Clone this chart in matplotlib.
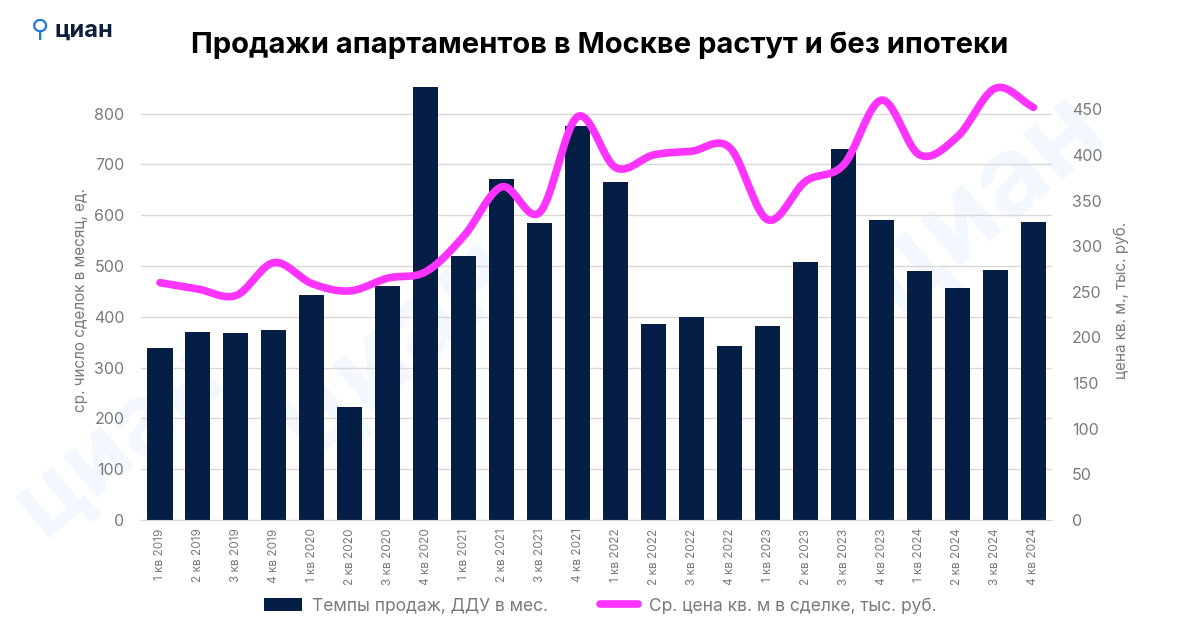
import numpy as np
import matplotlib.pyplot as plt

plt.rcParams['font.family'] = ['Inter', 'DejaVu Sans']

quarters = ['1 кв 2019', '2 кв 2019', '3 кв 2019', '4 кв 2019',
            '1 кв 2020', '2 кв 2020', '3 кв 2020', '4 кв 2020',
            '1 кв 2021', '2 кв 2021', '3 кв 2021', '4 кв 2021',
            '1 кв 2022', '2 кв 2022', '3 кв 2022', '4 кв 2022',
            '1 кв 2023', '2 кв 2023', '3 кв 2023', '4 кв 2023',
            '1 кв 2024', '2 кв 2024', '3 кв 2024', '4 кв 2024']
sales = [338, 371, 369, 373, 443, 222, 460, 852, 520, 671, 585, 775,
         665, 386, 399, 342, 381, 508, 731, 591, 490, 456, 493, 587]
price = [260, 253, 246, 282, 259, 251, 265, 272, 311, 365, 337, 442,
         386, 400, 404, 408, 329, 371, 389, 460, 400, 420, 473, 452]

bar_color = '#041e45'
line_color = '#ff33ff'
gray = '#7a7a7a'


def smooth(x, y, n=20):
    # catmull-rom, like excel's smoothed line
    x = np.asarray(x, float)
    y = np.asarray(y, float)
    px = np.concatenate([[2*x[0]-x[1]], x, [2*x[-1]-x[-2]]])
    py = np.concatenate([[2*y[0]-y[1]], y, [2*y[-1]-y[-2]]])
    xs, ys = [], []
    t = np.linspace(0, 1, n, endpoint=False)
    for i in range(1, len(px)-2):
        for p, out in ((px, xs), (py, ys)):
            p0, p1, p2, p3 = p[i-1], p[i], p[i+1], p[i+2]
            out.extend(0.5*((2*p1) + (-p0+p2)*t + (2*p0-5*p1+4*p2-p3)*t**2
                            + (-p0+3*p1-3*p2+p3)*t**3))
    xs.append(x[-1])
    ys.append(y[-1])
    return np.array(xs), np.array(ys)


fig = plt.figure(figsize=(12, 6.3), dpi=100)

# watermarks behind everything
for (wx, wy, s) in [(0.1, 0.3, 70), (0.33, 0.45, 80), (0.82, 0.68, 80)]:
    fig.text(wx, wy, 'циан', fontsize=s, fontweight='bold', color='#f3f7fe',
             rotation=40, ha='center', va='center', zorder=-5)

ax = fig.add_axes([0.1175, 0.1746, 0.7595, 0.6984])
ax.patch.set_alpha(0)
x = np.arange(len(quarters))
ax.bar(x, sales, width=0.66, color=bar_color, zorder=2, label='Темпы продаж, ДДУ в мес.')
ax.set_xlim(-0.5, len(quarters)-0.5)
ax.set_ylim(0, 866)
ax.set_yticks(range(0, 801, 100))
ax.grid(axis='y', color='#d9d9d9', lw=1, zorder=0)
ax.set_xticks(x)
ax.set_xticklabels(quarters, rotation=90, fontsize=8.5, color=gray)
ax.tick_params(axis='y', labelsize=11.5, labelcolor=gray, length=0, pad=12)
ax.tick_params(axis='x', length=0, pad=6)
for sp in ['top', 'right', 'left']:
    ax.spines[sp].set_visible(False)
ax.spines['bottom'].set_color('#d9d9d9')
ax.set_ylabel('ср. число сделок в месяц, ед.', fontsize=11, color=gray, labelpad=4)

ax2 = ax.twinx()
sx, sy = smooth(x, price)
ax2.plot(sx, sy, color=line_color, lw=5.5, solid_capstyle='round', zorder=3,
         label='Ср. цена кв. м в сделке, тыс. руб.')
ax2.set_ylim(0, 482)
ax2.set_yticks(range(0, 451, 50))
ax2.tick_params(axis='y', labelsize=11.5, labelcolor=gray, length=0, pad=14)
for sp in ax2.spines.values():
    sp.set_visible(False)
ax2.set_ylabel('цена кв. м., тыс. руб.', fontsize=11, color=gray, labelpad=8)

h1, l1 = ax.get_legend_handles_labels()
h2, l2 = ax2.get_legend_handles_labels()
fig.legend(h1 + h2, l1 + l2, loc='center', bbox_to_anchor=(0.5, 0.038), ncol=2,
           frameon=False, fontsize=12.5, labelcolor=gray, handlelength=2.2,
           columnspacing=3.0, handletextpad=0.6)

fig.text(0.5, 0.928, 'Продажи апартаментов в Москве растут и без ипотеки',
         ha='center', va='center', fontsize=21, fontweight='bold', color='black')

# logo
fig.text(0.033, 0.952, '⚲', fontsize=18, color='#1a73e8', ha='center', va='center')
fig.text(0.045, 0.952, 'циан', fontsize=17, fontweight='bold', color='#0d1f3c',
         ha='left', va='center')

fig.savefig('out.png', dpi=100)
